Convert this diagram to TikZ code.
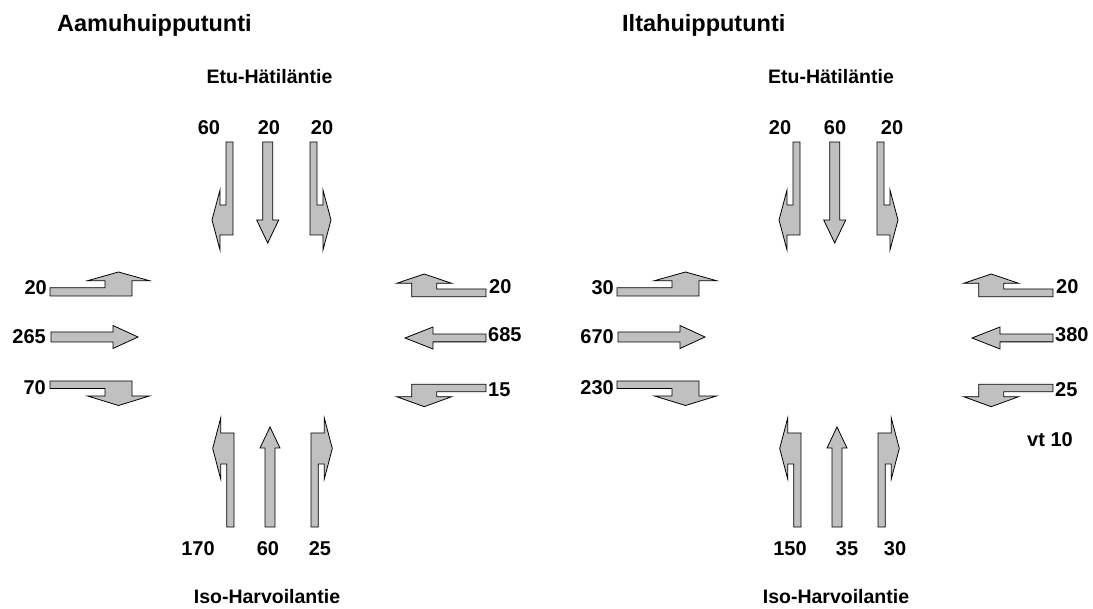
\documentclass[tikz,border=0pt]{standalone}
\usepackage{fontspec}
\setmainfont{Liberation Sans}
\definecolor{arrowgray}{RGB}{192,192,192}
\tikzset{
  arrowfill/.style={draw=black, fill=arrowgray, line width=0.8pt, line join=miter},
  numlbl/.style={font=\bfseries\fontsize{20}{22}\selectfont, inner sep=0pt},
  streetlbl/.style={font=\bfseries\fontsize{19.5}{22}\selectfont, inner sep=0pt},
  titlelbl/.style={font=\bfseries\fontsize{23.5}{26}\selectfont, inner sep=0pt}
}
% turn arrow: #1 transform, #2 L, #3 N, #4 shaft width, #5 head body, #6 barb, #7 tip
\newcommand{\TurnArrow}[7]{%
  \begin{scope}[#1]
    \draw[arrowfill] (0,0) -- (#2,0) -- (#2,#5) -- ({#2+#6},#5) -- ({#2-#3/2},{#5+#7})
      -- ({#2-#3-#6},#5) -- ({#2-#3},#5) -- ({#2-#3},#4) -- (0,#4) -- cycle;
  \end{scope}}
% straight arrow: #1 transform, #2 L, #3 half shaft, #4 half head, #5 tip
\newcommand{\StraightArrow}[5]{%
  \begin{scope}[#1]
    \draw[arrowfill] (0,-#3) -- (#2,-#3) -- (#2,-#4) -- ({#2+#5},0) -- (#2,#4) -- (#2,#3)
      -- (0,#3) -- cycle;
  \end{scope}}
\newcommand{\PanelArrows}{%
  % top approach (travel down)
  \TurnArrow{shift={(233,142)},x={(0pt,-1pt)},y={(-1pt,0pt)}}{93}{30}{7}{13}{15}{8}
  \StraightArrow{shift={(267.7,142)},x={(0pt,-1pt)},y={(1pt,0pt)}}{78}{5}{11}{23}
  \TurnArrow{shift={(310,142)},x={(0pt,-1pt)},y={(1pt,0pt)}}{93}{30}{7}{13}{15}{8}
  % bottom approach (travel up)
  \TurnArrow{shift={(234,527)},x={(0pt,1pt)},y={(-1pt,0pt)}}{94}{31}{7.3}{13.3}{15}{8}
  \StraightArrow{shift={(270,527)},x={(0pt,1pt)},y={(1pt,0pt)}}{79}{5}{10}{21}
  \TurnArrow{shift={(311,527)},x={(0pt,1pt)},y={(1pt,0pt)}}{94}{31}{7.3}{13.3}{15}{8}
  % left approach (travel right)
  \TurnArrow{shift={(50,296)},x={(1pt,0pt)},y={(0pt,1pt)}}{82}{27}{8.3}{15.3}{17.5}{8.7}
  \StraightArrow{shift={(51,337)},x={(1pt,0pt)},y={(0pt,1pt)}}{62}{5}{11.5}{25}
  \TurnArrow{shift={(50,381)},x={(1pt,0pt)},y={(0pt,-1pt)}}{82}{27}{7.5}{15}{17.5}{9.5}
  % right approach (travel left)
  \TurnArrow{shift={(486,296.7)},x={(-1pt,0pt)},y={(0pt,1pt)}}{74.3}{25}{7.7}{13.4}{15}{9.3}
  \StraightArrow{shift={(486,338)},x={(-1pt,0pt)},y={(0pt,1pt)}}{53}{3.9}{11}{28}
  \TurnArrow{shift={(486,384.3)},x={(-1pt,0pt)},y={(0pt,-1pt)}}{74.3}{25}{7.4}{12.4}{15}{10}
}
\begin{document}
\begin{tikzpicture}[x=1pt,y=-1pt]
\useasboundingbox (0,0) rectangle (1093,609);
% ---------- left panel: morning peak ----------
\PanelArrows
\node[titlelbl, anchor=base west] (tA) at (57,31.7) {Aamuhuipputunti};
\node[streetlbl, anchor=base] (nA) at (269.5,83.3) {Etu-Hätiläntie};
\node[streetlbl, anchor=base] (sA) at (267,603) {Iso-Harvoilantie};
\node[numlbl, anchor=base] (a1) at (209,135) {60};
\node[numlbl, anchor=base] (a2) at (269,135) {20};
\node[numlbl, anchor=base] (a3) at (322,135) {20};
\node[numlbl, anchor=base east] (a4) at (47,294.5) {20};
\node[numlbl, anchor=base east] (a5) at (46,343.3) {265};
\node[numlbl, anchor=base east] (a6) at (46,395) {70};
\node[numlbl, anchor=base west] (a7) at (489,293.3) {20};
\node[numlbl, anchor=base west] (a8) at (488,341.7) {685};
\node[numlbl, anchor=base west] (a9) at (488,396.7) {15};
\node[numlbl, anchor=base] (a10) at (198,555) {170};
\node[numlbl, anchor=base] (a11) at (268,555) {60};
\node[numlbl, anchor=base] (a12) at (320,555) {25};
% ---------- right panel: evening peak ----------
\begin{scope}[shift={(567,0)}]
\PanelArrows
\end{scope}
\node[titlelbl, anchor=base west] (tB) at (622,31.7) {Iltahuipputunti};
\node[streetlbl, anchor=base] (nB) at (831,83.3) {Etu-Hätiläntie};
\node[streetlbl, anchor=base] (sB) at (836,603) {Iso-Harvoilantie};
\node[numlbl, anchor=base] (b1) at (780,135) {20};
\node[numlbl, anchor=base] (b2) at (835,135) {60};
\node[numlbl, anchor=base] (b3) at (892,135) {20};
\node[numlbl, anchor=base east] (b4) at (614,294.5) {30};
\node[numlbl, anchor=base east] (b5) at (614,343.3) {670};
\node[numlbl, anchor=base east] (b6) at (614,395) {230};
\node[numlbl, anchor=base west] (b7) at (1056,293.3) {20};
\node[numlbl, anchor=base west] (b8) at (1055,341.7) {380};
\node[numlbl, anchor=base west] (b9) at (1055,396.7) {25};
\node[numlbl, anchor=base] (b13) at (1050,447) {vt 10};
\node[numlbl, anchor=base] (b10) at (790,555) {150};
\node[numlbl, anchor=base] (b11) at (847,555) {35};
\node[numlbl, anchor=base] (b12) at (895,555) {30};
\end{tikzpicture}
\end{document}
